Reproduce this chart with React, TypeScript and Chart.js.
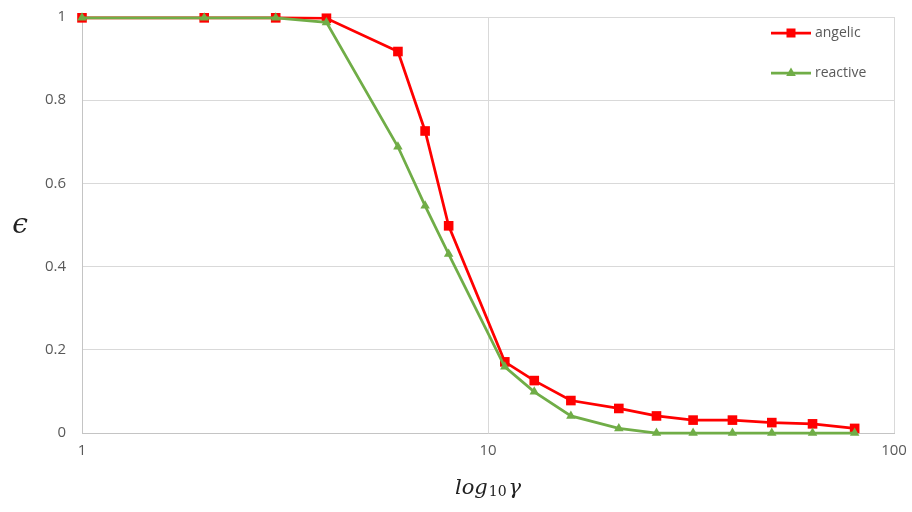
import React, { useEffect, useRef } from "react";
import { Chart, registerables } from "chart.js";

Chart.register(...registerables);

// ---- data ----
const gammaValues = [1, 2, 3, 4, 6, 7, 8, 11, 13, 16, 21, 26, 32, 40, 50, 63, 80];
const angelicValues = [0.998, 0.998, 0.998, 0.997, 0.917, 0.726, 0.498, 0.171, 0.126, 0.078, 0.059, 0.041, 0.031, 0.031, 0.025, 0.022, 0.011];
const reactiveValues = [0.998, 0.998, 0.998, 0.987, 0.688, 0.546, 0.43, 0.159, 0.099, 0.041, 0.011, 0, 0, 0, 0, 0, 0];
const seriesNames = ["angelic", "reactive"];
const xTickValues = [1, 10, 100];
const yTickStep = 0.2;

const RED = "#ff0000";
const GREEN = "#70ad47";
const TEXT = "#595959";

const legendPlugin = {
  id: "customLegend",
  afterDraw(chart: any) {
    const ctx = chart.ctx;
    const area = chart.chartArea;
    const items = [
      { label: seriesNames[0], color: RED, style: "rect", dy: 16 },
      { label: seriesNames[1], color: GREEN, style: "triangle", dy: 56 },
    ];
    ctx.save();
    items.forEach((it) => {
      const y = area.top + it.dy;
      const x0 = area.right - 123;
      const x1 = x0 + 40;
      const xm = (x0 + x1) / 2;
      ctx.strokeStyle = it.color;
      ctx.lineWidth = 2.75;
      ctx.beginPath();
      ctx.moveTo(x0, y);
      ctx.lineTo(x1, y);
      ctx.stroke();
      ctx.fillStyle = it.color;
      if (it.style === "rect") {
        ctx.fillRect(xm - 4.5, y - 4.5, 9, 9);
      } else {
        ctx.beginPath();
        ctx.moveTo(xm, y - 5.5);
        ctx.lineTo(xm + 4.8, y + 3);
        ctx.lineTo(xm - 4.8, y + 3);
        ctx.closePath();
        ctx.fill();
      }
      ctx.fillStyle = TEXT;
      ctx.font = "14px 'Open Sans'";
      ctx.textAlign = "left";
      ctx.textBaseline = "middle";
      ctx.fillText(it.label, x1 + 4, y);
    });
    ctx.restore();
  },
};

const titlePlugin = {
  id: "axisTitles",
  afterDraw(chart: any) {
    const ctx = chart.ctx;
    const area = chart.chartArea;
    ctx.save();
    ctx.fillStyle = "#222222";
    // y title
    ctx.font = "italic 28px 'DejaVu Serif'";
    ctx.textAlign = "center";
    ctx.textBaseline = "alphabetic";
    ctx.fillText("\u03F5", 20, (area.top + area.bottom) / 2 + 8);
    // x title: log_10 gamma
    const main = "italic 21px 'DejaVu Serif'";
    const sub = "14px 'DejaVu Serif'";
    ctx.font = main;
    const wLog = ctx.measureText("log").width;
    const wG = ctx.measureText("\u03B3").width;
    ctx.font = sub;
    const w10 = ctx.measureText("10").width;
    const total = wLog + w10 + wG + 3;
    const cx = (area.left + area.right) / 2;
    let x = cx - total / 2;
    const base = 494;
    ctx.textAlign = "left";
    ctx.font = main;
    ctx.fillText("log", x, base);
    x += wLog + 1;
    ctx.font = sub;
    ctx.fillText("10", x, base + 2);
    x += w10 + 2;
    ctx.font = main;
    ctx.fillText("\u03B3", x, base);
    ctx.restore();
  },
};

export default function App() {
  const ref = useRef<HTMLCanvasElement | null>(null);
  useEffect(() => {
    if (!ref.current) return;
    const chart = new Chart(ref.current, {
      type: "line",
      data: {
        datasets: [
          {
            label: seriesNames[0],
            data: gammaValues.map((g, i) => ({ x: g, y: angelicValues[i] })),
            borderColor: RED,
            backgroundColor: RED,
            borderWidth: 2.75,
            pointStyle: "rect",
            pointRadius: 6.8,
            pointBorderWidth: 0,
            tension: 0,
            clip: false as any,
            order: 2,
          },
          {
            label: seriesNames[1],
            data: gammaValues.map((g, i) => ({ x: g, y: reactiveValues[i] })),
            borderColor: GREEN,
            backgroundColor: GREEN,
            borderWidth: 2.75,
            pointStyle: "triangle",
            pointRadius: 5.5,
            pointBorderWidth: 0,
            tension: 0,
            clip: false as any,
            order: 1,
          },
        ],
      },
      options: {
        responsive: false,
        animation: false,
        layout: { padding: { top: 17, right: 18, left: 0, bottom: 0 } },
        plugins: {
          legend: { display: false },
          tooltip: { enabled: false },
        },
        scales: {
          x: {
            type: "logarithmic",
            min: 1,
            max: 100,
            afterBuildTicks: (s: any) => {
              s.ticks = xTickValues.map((v) => ({ value: v }));
            },
            afterFit: (s: any) => {
              s.height = 79;
              s.paddingLeft = 0;
              s.paddingRight = 0;
            },
            ticks: {
              callback: (v: any) => String(v),
              color: TEXT,
              font: { family: "'Open Sans'", size: 15 },
              padding: 9,
              maxRotation: 0,
              autoSkip: false,
            },
            grid: { color: "#d9d9d9", lineWidth: 1, drawTicks: false },
            border: { color: "#c4c4c4", width: 1 },
          },
          y: {
            type: "linear",
            min: 0,
            max: 1,
            afterFit: (s: any) => {
              s.width = 82;
              s.paddingTop = 0;
              s.paddingBottom = 0;
            },
            ticks: {
              stepSize: yTickStep,
              callback: (v: any) => String(Number(Number(v).toFixed(1))),
              color: TEXT,
              font: { family: "'Open Sans'", size: 15 },
              padding: 16,
            },
            grid: { color: "#d9d9d9", lineWidth: 1, drawTicks: false },
            border: { color: "#c4c4c4", width: 1 },
          },
        },
      },
      plugins: [legendPlugin, titlePlugin],
    });
    return () => chart.destroy();
  }, []);
  return (
    <div style={{ position: "absolute", left: 0, top: 0, width: 912, height: 512, background: "#fff" }}>
      <canvas ref={ref} width={912} height={512} style={{ display: "block" }} />
    </div>
  );
}
